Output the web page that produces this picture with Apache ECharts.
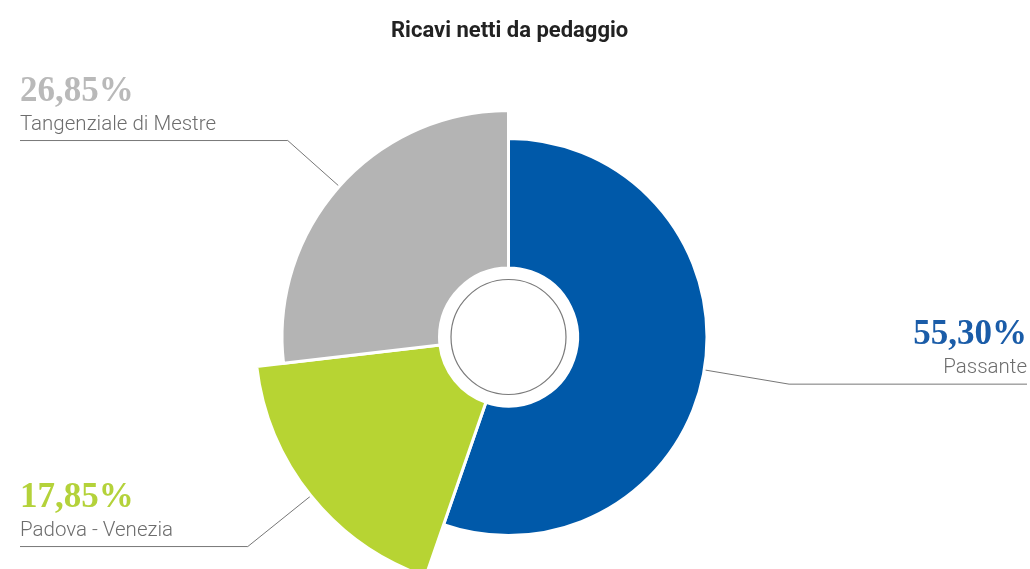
<!DOCTYPE html>
<html>
<head>
<meta charset="utf-8">
<script src="https://cdn.jsdelivr.net/npm/echarts@6/dist/echarts.min.js"></script>
<style>
html,body{margin:0;padding:0;background:#fff}
#main{width:1030px;height:569px}
</style>
</head>
<body>
<div id="main"></div>
<script>
var titolo = 'Ricavi netti da pedaggio';
var tratte = ['Passante', 'Padova - Venezia', 'Tangenziale di Mestre'];
var quote = [55.30, 17.85, 26.85];

// stile: ogni fetta ha il suo raggio esterno
var colori = ['#0059a9', '#b7d433', '#b4b4b4'];
var coloriTesto = ['#1a5ca8', '#b4d23a', '#b9b9b9'];
var raggi = [198.5, 253.5, 226.5];
var lunghezzaLinea = [86, 81, 69];
var bordoPagina = [3, 20, 20];
var centro = [508.5, 337];

function perc(v){
	return v.toFixed(2).replace('.', ',') + '%';
}

var myChart = echarts.init(document.getElementById('main'));

function spostaEtichetta(params){
	var r = params.labelRect, pts = params.labelLinePoints;
	if (!pts) return;
	var sinistra = r.x + r.width / 2 < centro[0];
	pts[2][0] = sinistra ? r.x : r.x + r.width;
	return { dy: -r.height / 2, labelLinePoints: pts };
}

var series = [];
for (var k = 0; k < tratte.length; k++) {
	var data = [];
	for (var i = 0; i < tratte.length; i++) {
		var vis = (i === k);
		data.push({
			name: tratte[i],
			value: quote[i],
			itemStyle: vis ? { color: colori[i], borderColor: '#fff', borderWidth: 3 }
			               : { color: 'rgba(0,0,0,0)', borderWidth: 0 },
			label: { show: vis },
			labelLine: { show: vis }
		});
	}
	series.push({
		type: 'pie',
		center: centro,
		radius: [69, raggi[k]],
		startAngle: 90,
		clockwise: true,
		silent: true,
		animation: false,
		data: data,
		label: {
			alignTo: 'edge',
			edgeDistance: bordoPagina[k],
			padding: [0, 0, 11, 0],
			formatter: function(p){
				return '{pct|' + perc(p.value) + '}\n{nome|' + p.name + '}';
			},
			rich: {
				pct: { fontFamily: 'Liberation Serif', fontWeight: 'bold', fontSize: 35, lineHeight: 40, color: coloriTesto[k] },
				nome: { fontFamily: 'Roboto', fontWeight: 300, fontSize: 20.5, lineHeight: 26, color: '#6d6d6d' }
			}
		},
		labelLine: {
			length: lunghezzaLinea[k],
			length2: 10,
			smooth: false,
			lineStyle: { color: '#777', width: 1 }
		},
		labelLayout: spostaEtichetta
	});
}

/*cerchio interno*/
series.push({
	type: 'pie',
	center: centro,
	radius: [0, 57.5],
	silent: true,
	animation: false,
	label: { show: false },
	labelLine: { show: false },
	data: [{ value: 1, itemStyle: { color: '#fff', borderColor: '#7a7a7a', borderWidth: 1.2 } }]
});

var option = {
	backgroundColor: '#fff',
	title: {
		text: titolo,
		left: 386,
		top: 15,
		textStyle: { fontFamily: 'Roboto', fontWeight: 'bold', fontSize: 22, color: '#222' }
	},
	series: series
};
myChart.setOption(option);
</script>
</body>
</html>
